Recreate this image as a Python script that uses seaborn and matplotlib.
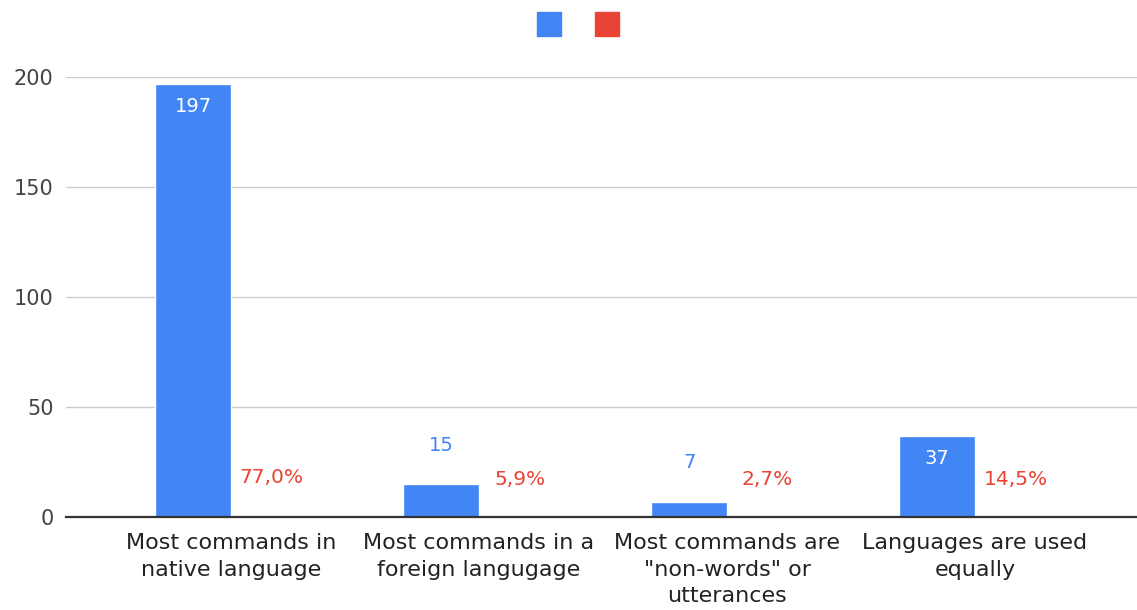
import matplotlib
matplotlib.use("Agg")
import matplotlib.pyplot as plt
import seaborn as sns
import pandas as pd
from matplotlib.lines import Line2D

categories = [
    "Most commands in\nnative language",
    "Most commands in a\nforeign langugage",
    "Most commands are\n\"non-words\" or\nutterances",
    "Languages are used\nequally",
]
counts = [197, 15, 7, 37]
percents = [0.770, 0.059, 0.027, 0.145]
series_names = ["Count", "Percent"]

BLUE = "#4285F4"
RED = "#EA4335"

sns.set_theme(style="white")
plt.rcParams["font.family"] = ["DejaVu Sans"]

df = pd.DataFrame({
    "category": categories * 2,
    "series": [series_names[0]] * len(categories) + [series_names[1]] * len(categories),
    "value": counts + percents,
})

fig = plt.figure(figsize=(11.37, 6.10), dpi=100)
ax = fig.add_axes([66 / 1137, 1 - 517 / 610, 1 - 66 / 1137, (517 - 77) / 610])

sns.barplot(data=df, x="category", y="value", hue="series", palette=[BLUE, RED],
            width=0.61, gap=0, dodge=True, ax=ax, legend=False, saturation=1,
            errorbar=None)

ax.set_ylim(0, 200)
ax.set_xlim(-0.665, 3.653)
ax.set_yticks([0, 50, 100, 150, 200])
ax.yaxis.grid(True, color="#cccccc", linewidth=1)
ax.set_axisbelow(True)
for s in ["top", "right", "left"]:
    ax.spines[s].set_visible(False)
ax.spines["bottom"].set_color("#333333")
ax.spines["bottom"].set_linewidth(1.6)
ax.spines["bottom"].set_zorder(5)
ax.set_xlabel("")
ax.set_ylabel("")
ax.tick_params(axis="y", length=0, pad=9, labelsize=15, labelcolor="#444444")
ax.tick_params(axis="x", length=0, pad=11.5, labelsize=16, labelcolor="#222222")
for lbl in ax.get_xticklabels():
    lbl.set_linespacing(1.42)

blue_bars = ax.containers[0]
red_bars = ax.containers[1]
for bar, v in zip(blue_bars, counts):
    x = bar.get_x() + bar.get_width() / 2
    top = bar.get_height()
    if v >= 30:
        ax.annotate(str(v), (x, top), xytext=(0, -16.5), textcoords="offset points",
                    ha="center", va="center", color="white", fontsize=14)
    else:
        ax.annotate(str(v), (x, top), xytext=(0, 28), textcoords="offset points",
                    ha="center", va="center", color=BLUE, fontsize=14)
for bar, p in zip(red_bars, percents):
    x = bar.get_x() + bar.get_width() / 2
    top = bar.get_height()
    txt = f"{p * 100:.1f}%".replace(".", ",")
    ax.annotate(txt, (x, top), xytext=(2, 27), textcoords="offset points",
                ha="center", va="center", color=RED, fontsize=14.5)

handles = [Line2D([], [], marker="s", linestyle="none", markersize=17,
                  markerfacecolor=c, markeredgecolor=c) for c in (BLUE, RED)]
fig.legend(handles, ["", ""], loc="center", bbox_to_anchor=(578 / 1137, 1 - 25 / 610),
           ncol=2, frameon=False, handlelength=1.0, handletextpad=0.0,
           columnspacing=2.0, fontsize=14)

fig.savefig("out.png", dpi=100)
